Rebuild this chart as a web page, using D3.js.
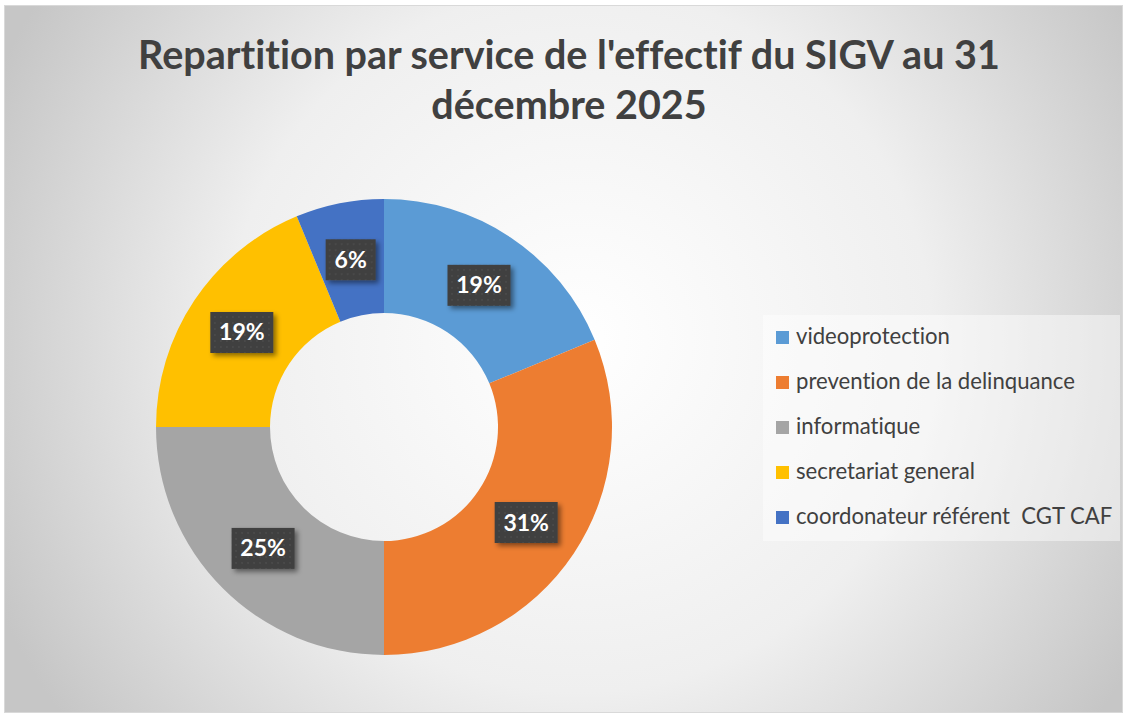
<!DOCTYPE html>
<html>
<head>
<meta charset="utf-8">
<script src="https://cdn.jsdelivr.net/npm/d3@7"></script>
<style>
  html, body { margin: 0; padding: 0; background: #fff; }
  svg { display: block; font-family: Lato, "Open Sans", sans-serif; font-variant-ligatures: none; }
</style>
</head>
<body>
<svg id="chart" width="1128" height="717"></svg>
<script>
const width = 1128;
const height = 717;

// data (head counts, shown as % of total)
const categories = ["videoprotection", "prevention de la delinquance", "informatique", "secretariat general", "coordonateur référent  CGT CAF"];
const counts = [3, 5, 4, 3, 1];
const colors = ["#5B9BD5", "#ED7D31", "#A5A5A5", "#FFC000", "#4472C4"];
const titleLines = ["Repartition par service de l'effectif du SIGV au 31", "décembre 2025"];

const svg = d3.select("#chart");
const defs = svg.append("defs");

const bg = defs.append("radialGradient")
  .attr("id", "bg")
  .attr("gradientUnits", "userSpaceOnUse")
  .attr("cx", 580).attr("cy", 340).attr("r", 640);
bg.append("stop").attr("offset", "0%").attr("stop-color", "#ffffff");
bg.append("stop").attr("offset", "55%").attr("stop-color", "#efefef");
bg.append("stop").attr("offset", "100%").attr("stop-color", "#c6c6c6");

const shadow = defs.append("filter").attr("id", "shadow")
  .attr("x", "-30%").attr("y", "-30%").attr("width", "160%").attr("height", "160%");
shadow.append("feDropShadow")
  .attr("dx", 3).attr("dy", 3).attr("stdDeviation", 2.5)
  .attr("flood-color", "#000").attr("flood-opacity", 0.45);

const dots = defs.append("pattern").attr("id", "dots")
  .attr("width", 6).attr("height", 6).attr("patternUnits", "userSpaceOnUse");
dots.append("rect").attr("width", 6).attr("height", 6).attr("fill", "#3f3f3f");
dots.append("circle").attr("cx", 3).attr("cy", 3).attr("r", 1).attr("fill", "#4c4c4c");

// chart area
svg.append("rect")
  .attr("x", 4.5).attr("y", 5.5)
  .attr("width", 1118).attr("height", 707)
  .attr("fill", "url(#bg)")
  .attr("stroke", "#d9d9d9");

// title
const title = svg.append("g");
titleLines.forEach((line, i) => {
  title.append("text")
    .attr("x", 569)
    .attr("y", 69 + i * 50)
    .attr("text-anchor", "middle")
    .attr("font-weight", "bold")
    .attr("font-size", 36)
    .attr("fill", "#404040")
    .text(line);
});
// squeeze first line to the width it has in the picture
const t0 = title.select("text").node();
const w0 = t0.getComputedTextLength();
const titleSize = 36 * 862 / w0;
title.selectAll("text").attr("font-size", titleSize);

// donut
const cx = 384, cy = 427;
const outerR = 228, innerR = 114;
const total = d3.sum(counts);

const pie = d3.pie().sort(null).value(d => d)(counts);
const arc = d3.arc().innerRadius(innerR).outerRadius(outerR);
const mid = d3.arc().innerRadius((innerR + outerR) / 2).outerRadius((innerR + outerR) / 2);

const donut = svg.append("g").attr("transform", `translate(${cx},${cy})`);
donut.selectAll("path")
  .data(pie)
  .enter()
  .append("path")
  .attr("d", arc)
  .attr("fill", (d, i) => colors[i]);

// data labels
const labels = donut.selectAll("g.label")
  .data(pie)
  .enter()
  .append("g")
  .attr("class", "label")
  .attr("transform", d => `translate(${mid.centroid(d)})`);

labels.append("rect")
  .attr("x", d => d.data < 2 ? -25 : -31.5)
  .attr("y", -20)
  .attr("width", d => d.data < 2 ? 50 : 63)
  .attr("height", 41)
  .attr("fill", "url(#dots)")
  .attr("filter", "url(#shadow)");

labels.append("text")
  .attr("text-anchor", "middle")
  .attr("y", 8.5)
  .attr("font-weight", "bold")
  .attr("font-size", 23)
  .attr("fill", "#fff")
  .text(d => Math.round(d.data / total * 100) + "%");

// legend
const legend = svg.append("g").attr("transform", "translate(763,315)");
legend.append("rect")
  .attr("width", 357).attr("height", 226)
  .attr("fill", "#fff").attr("fill-opacity", 0.45);

const item = legend.selectAll("g.item")
  .data(categories)
  .enter()
  .append("g")
  .attr("class", "item")
  .attr("transform", (d, i) => `translate(0, ${22 + i * 45})`);

item.append("rect")
  .attr("x", 13).attr("y", -6)
  .attr("width", 13).attr("height", 13)
  .attr("fill", (d, i) => colors[i]);

item.append("text")
  .attr("x", 33)
  .attr("y", 7)
  .attr("font-size", 20)
  .attr("fill", "#404040")
  .style("white-space", "pre")
  .text(d => d);

// match legend text width to the picture
const lt = item.select("text").node();
const lw = lt.getComputedTextLength();
item.selectAll("text").attr("font-size", 20 * 154 / lw);
</script>
</body>
</html>
